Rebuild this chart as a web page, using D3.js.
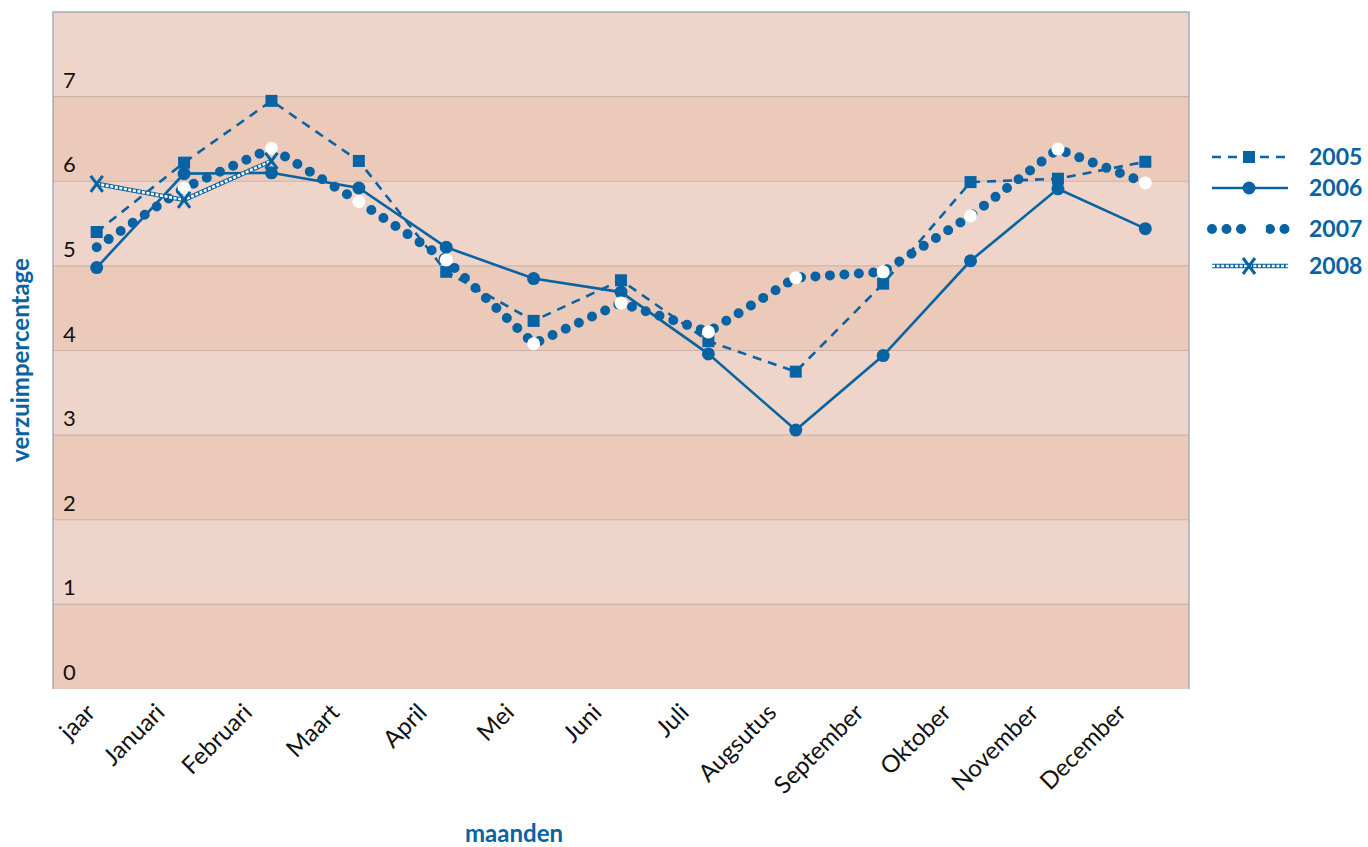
<!DOCTYPE html>
<html>
<head>
<meta charset="utf-8">
<script src="https://cdn.jsdelivr.net/npm/d3@7"></script>
<style>
    body{margin:0;background:#fff;}
    svg{display:block;}
</style>
</head>
<body>
<div id="chart"></div>
<script>
// maanden + verzuim per jaar
var maanden=['jaar','Januari','Februari','Maart','April','Mei','Juni','Juli','Augsutus','September','Oktober','November','December'];
var v2005=[5.40,6.22,6.95,6.24,4.93,4.35,4.83,4.11,3.75,4.79,5.99,6.03,6.23];
var v2006=[4.98,6.09,6.10,5.92,5.22,4.85,4.69,3.96,3.06,3.94,5.06,5.91,5.44];
var v2007=[5.22,5.92,6.39,5.76,5.07,4.08,4.56,4.22,4.86,4.93,5.59,6.38,5.98];
var v2008=[5.97,5.78,6.24];
var yTicks=[0,1,2,3,4,5,6,7];
var jaren=['2005','2006','2007','2008'];

(function(){
    var W=1368,H=847;
    var blue='#0763a3';
    var left=53,top=12,right=1189,bottom=689;

    var svg=d3.select('#chart').append('svg').attr('width',W).attr('height',H);

    var x=d3.scalePoint().domain(maanden).range([left,right]).padding(0.5);
    var y=d3.scaleLinear().domain([0,8]).range([bottom,top]);

    // banden
    var banden=d3.range(0,8);
    svg.append('g').selectAll('rect').data(banden).enter().append('rect')
        .attr('x',left).attr('width',right-left)
        .attr('y',function(d){return y(d+1);})
        .attr('height',function(d){return y(d)-y(d+1);})
        .attr('fill',function(d){return d%2==0?'#eccab9':'#efd5c9';});

    // gridlijnen
    svg.append('g').selectAll('line').data(yTicks.slice(1)).enter().append('line')
        .attr('x1',left).attr('x2',right)
        .attr('y1',function(d){return y(d);}).attr('y2',function(d){return y(d);})
        .attr('stroke','#c7b3ab').attr('stroke-width',1.2);

    // rand
    svg.append('path')
        .attr('d','M'+left+','+bottom+'V'+top+'H'+right+'V'+bottom)
        .attr('fill','none').attr('stroke','#a3adb9').attr('stroke-width',1.5);

    // y labels, binnen het vlak
    svg.append('g').selectAll('text').data(yTicks).enter().append('text')
        .attr('x',left+10).attr('y',function(d){return y(d)-9;})
        .attr('font-family','Lato, sans-serif').attr('font-size',22)
        .attr('fill','#111').text(function(d){return d;});

    // x labels
    svg.append('g').selectAll('text').data(maanden).enter().append('text')
        .attr('transform',function(d,i){return 'translate('+(x(d)-(i==0?0:18))+',714) rotate(-45)';})
        .attr('text-anchor','end')
        .attr('font-family','Lato, sans-serif').attr('font-size',24)
        .attr('fill','#111').text(function(d){return d;});

    // as titels
    svg.append('text').attr('x',514).attr('y',842)
        .attr('text-anchor','middle').attr('font-family','Lato, sans-serif')
        .attr('font-weight','bold').attr('font-size',24).attr('fill',blue).text('maanden');
    svg.append('text').attr('transform','translate(29,360) rotate(-90)')
        .attr('text-anchor','middle').attr('font-family','Lato, sans-serif')
        .attr('font-weight','bold').attr('font-size',24).attr('fill',blue).text('verzuimpercentage');

    var line=d3.line()
        .x(function(d,i){return x(maanden[i]);})
        .y(function(d){return y(d);});

    function pts(vals){
        return vals.map(function(v,i){return {x:x(maanden[i]),y:y(v),i:i};});
    }

    // stijlen per reeks, ook gebruikt in legenda
    function drawDash(g,d){
        g.append('path').attr('d',d).attr('fill','none').attr('stroke',blue)
            .attr('stroke-width',2.6).attr('stroke-dasharray','9 7');
    }
    function drawSolid(g,d){
        g.append('path').attr('d',d).attr('fill','none').attr('stroke',blue).attr('stroke-width',2.6);
    }
    function drawDots(g,d){
        g.append('path').attr('d',d).attr('fill','none').attr('stroke',blue)
            .attr('stroke-width',10).attr('stroke-linecap','round').attr('stroke-dasharray','0 14.5');
    }
    function drawChain(g,d){
        g.append('path').attr('d',d).attr('fill','none').attr('stroke',blue).attr('stroke-width',4.5);
        g.append('path').attr('d',d).attr('fill','none').attr('stroke','#fff')
            .attr('stroke-width',2.6).attr('stroke-dasharray','3 1.6');
    }
    function square(g,p){
        g.append('rect').attr('x',p.x-6).attr('y',p.y-6).attr('width',12).attr('height',12).attr('fill',blue);
    }
    function dot(g,p){
        g.append('circle').attr('cx',p.x).attr('cy',p.y).attr('r',6.5).attr('fill',blue);
    }
    function whiteDot(g,p){
        if(p.i===0) return; // bij 'jaar' niet zichtbaar
        g.append('circle').attr('cx',p.x).attr('cy',p.y).attr('r',6.5).attr('fill','#fff');
    }
    function cross(g,p){
        g.append('path')
            .attr('d','M'+(p.x-6)+','+(p.y-8)+'L'+(p.x+6)+','+(p.y+8)+'M'+(p.x+6)+','+(p.y-8)+'L'+(p.x-6)+','+(p.y+8))
            .attr('stroke',blue).attr('stroke-width',3).attr('fill','none');
    }

    var reeksen=[
        {naam:'2005',vals:v2005,lijn:drawDash,marker:square},
        {naam:'2006',vals:v2006,lijn:drawSolid,marker:dot},
        {naam:'2007',vals:v2007,lijn:drawDots,marker:whiteDot},
        {naam:'2008',vals:v2008,lijn:drawChain,marker:cross}
    ];

    var plot=svg.append('g');
    reeksen.forEach(function(r){
        var g=plot.append('g');
        r.lijn(g,line(r.vals));
        pts(r.vals).forEach(function(p){r.marker(g,p);});
    });

    // legenda
    var legY=[157,188,229,266];
    var leg=svg.append('g');
    reeksen.forEach(function(r,i){
        var g=leg.append('g');
        var ly=legY[i];
        r.lijn(g,'M1212,'+ly+'H1288');
        if(r.marker===whiteDot){
            g.append('circle').attr('cx',1258).attr('cy',ly).attr('r',8).attr('fill','#fff');
        }else{
            r.marker(g,{x:1249,y:ly,i:1});
        }
        g.append('text').attr('x',1309).attr('y',ly+8)
            .attr('font-family','Lato, sans-serif').attr('font-weight','bold')
            .attr('font-size',23).attr('fill',blue).text(r.naam);
    });
})();
</script>
</body>
</html>
